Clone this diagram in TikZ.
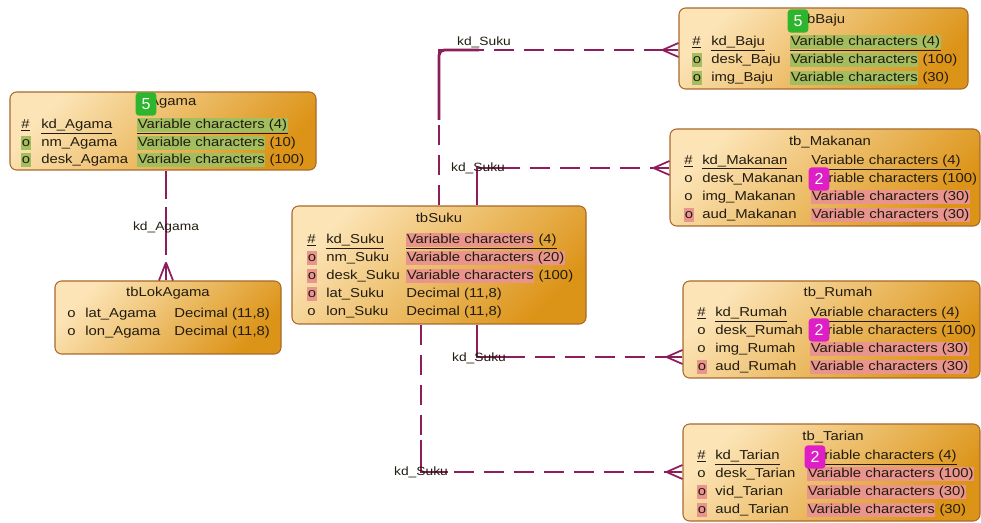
\documentclass[tikz,border=0pt]{standalone}
\usepackage{fontspec}
\setmainfont{Liberation Sans}
\newfontfamily\tf[FakeStretch=1.15]{Liberation Sans}
\usetikzlibrary{calc,fit}
\definecolor{boxlight}{HTML}{FCE4B6}
\definecolor{boxdark}{HTML}{DC9418}
\definecolor{boxborder}{HTML}{A8692C}
\definecolor{relc}{HTML}{8E1D5C}
\definecolor{hlg}{HTML}{A3BE5E}
\definecolor{hlp}{HTML}{E9958E}
\definecolor{bgreen}{HTML}{2DB52D}
\definecolor{bmag}{HTML}{DF1FC6}
\definecolor{txt}{HTML}{221C10}
\newcommand\tfont{\tf\fontsize{9.7}{11}\selectfont}
\newcommand\lfont{\tf\fontsize{9}{11}\selectfont}
\newcommand\bfont{\fontsize{12}{12}\selectfont}
\newcommand\hg[1]{{\setlength{\fboxsep}{0.4pt}\colorbox{hlg}{\vphantom{(}#1}}}
\newcommand\hp[1]{{\setlength{\fboxsep}{0.4pt}\colorbox{hlp}{\vphantom{(}#1}}}
\newcommand\uln[1]{\underline{#1}}
\newcommand\trow[8]{%
  \node[cell] (#1s) at (#3,#2) {#4};
  \node[cell] (#1n) at (#5,#2) {#6};
  \node[cell] (#1t) at (#7,#2) {#8};}
\newcommand\crowW[2]{%
  \draw[rel] ($(#1)+(-16,0)$) -- (#1);
  \draw[foot] ($(#1)+(-16,0)$) -- ($(#1)+(0,-7)$) ($(#1)+(-16,0)$) -- ($(#1)+(0,7)$);}
\begin{document}
\begin{tikzpicture}[x=0.75pt,y=-0.75pt,
  tbl/.style={draw=boxborder, line width=0.8pt, rounded corners=5pt,
    top color=boxlight, bottom color=boxdark, shading angle=45, inner sep=0pt},
  cell/.style={anchor=west, inner sep=0pt, text=txt, font=\tfont, text height=7pt, text depth=2pt},
  ttl/.style={cell, anchor=center},
  rel/.style={draw=relc, line width=2.1pt},
  foot/.style={draw=relc, line width=1.3pt},
  dsh/.style={dash pattern=on 15pt off 7.5pt},
  lbl/.style={inner sep=0pt, font=\lfont, text=txt},
  badge/.style={rounded corners=2.5pt, minimum width=15.5pt, minimum height=17.5pt, inner sep=0pt, text=white, font=\bfont}]
\useasboundingbox (0,0) rectangle (981,523);
% boxes
\node[tbl, fit={(10,92) (316,170)}] (agama) {};
\node[tbl, fit={(55,281) (281,354)}] (lokagama) {};
\node[tbl, fit={(292,206) (586,324)}] (suku) {};
\node[tbl, fit={(679,8) (968,89)}] (baju) {};
\node[tbl, fit={(670,129) (980,226)}] (makanan) {};
\node[tbl, fit={(683,281) (980,378)}] (rumah) {};
\node[tbl, fit={(683,424) (980,521)}] (tarian) {};
% helper coordinates
\coordinate (xAg) at (166,0);
\coordinate (xA) at (439,0);
\coordinate (xB) at (477,0);
\coordinate (xC) at (421,0);
\coordinate (yBa) at (0,50);
\coordinate (yMk) at (0,168);
\coordinate (yRu) at (0,357);
\coordinate (yTa) at (0,472);
\coordinate (eBa) at (baju.west |- yBa);
\coordinate (eMk) at (makanan.west |- yMk);
\coordinate (eRu) at (rumah.west |- yRu);
\coordinate (eTa) at (tarian.west |- yTa);
% connectors
\draw[rel, dash pattern=on 21pt off 6pt on 36pt off 6pt on 40pt] (agama.south -| xAg) -- (lokagama.north -| xAg);
\draw[foot] ($(lokagama.north -| xAg)+(0,-18)$) -- ($(lokagama.north -| xAg)+(-7,0)$)
            ($(lokagama.north -| xAg)+(0,-18)$) -- ($(lokagama.north -| xAg)+(7,0)$);
\draw[rel, dsh] (suku.north -| xA) |- ($(eBa)+(-16,0)$);
\draw[rel, rounded corners=4pt] ($(xA |- yBa)+(0,70)$) |- ($(xA |- yBa)+(40,0)$);
\crowW{eBa}{}
\draw[rel, dsh] (suku.north -| xB) |- ($(eMk)+(-16,0)$);
\draw[rel] (suku.north -| xB) |- ($(xB |- yMk)+(36,0)$);
\crowW{eMk}{}
\draw[rel, dsh] (suku.south -| xB) |- ($(eRu)+(-16,0)$);
\draw[rel] (suku.south -| xB) |- ($(xB |- yRu)+(30,0)$);
\crowW{eRu}{}
\draw[rel, dsh] (suku.south -| xC) |- ($(eTa)+(-16,0)$);
\draw[rel] ($(xC |- yTa)+(0,-32)$) |- ($(xC |- yTa)+(27,0)$);
\crowW{eTa}{}
% labels
\node[lbl] (lAg) at (166,227) {kd\_Agama};
\node[lbl] (lBa) at (484,42) {kd\_Suku};
\node[lbl] (lMk) at (478,168) {kd\_Suku};
\node[lbl] (lRu) at (479,358) {kd\_Suku};
\node[lbl] (lTa) at (421,472) {kd\_Suku};
% tbAgama
\node[ttl] (agT) at (166,102) {\hg{tb}Agama};
\trow{ag1}{125}{21}{\uln{\#}}{41}{\uln{kd\_Agama}}{137}{\uln{\hg{Variable characters (4)}}}
\trow{ag2}{143}{21}{\hg{o}}{41}{nm\_Agama}{137}{\hg{Variable characters} (10)}
\trow{ag3}{160}{21}{\hg{o}}{41}{desk\_Agama}{137}{\hg{Variable characters} (100)}
% tbLokAgama
\node[ttl] (laT) at (168,293) {tbLokAgama};
\trow{la1}{314}{67}{o}{85}{lat\_Agama}{174}{Decimal (11,8)}
\trow{la2}{332}{67}{o}{85}{lon\_Agama}{174}{Decimal (11,8)}
% tbSuku
\node[ttl] (suT) at (439,219) {tbSuku};
\trow{su1}{240}{307}{\uln{\#}}{326}{\uln{kd\_Suku}}{406}{\uln{\hp{Variable characters} (4)}}
\trow{su2}{258}{307}{\hp{o}}{326}{nm\_Suku}{406}{\hp{Variable characters (20)}}
\trow{su3}{276}{307}{\hp{o}}{326}{desk\_Suku}{406}{\hp{Variable characters} (100)}
\trow{su4}{294}{307}{\hp{o}}{326}{lat\_Suku}{406}{Decimal (11,8)}
\trow{su5}{312}{307}{o}{326}{lon\_Suku}{406}{Decimal (11,8)}
% tbBaju
\node[ttl] (baT) at (824,20) {tbBaju};
\trow{ba1}{42}{692}{\uln{\#}}{711}{\uln{kd\_Baju}}{790}{\uln{\hg{Variable characters (4)}}}
\trow{ba2}{60}{692}{\hg{o}}{711}{desk\_Baju}{790}{\hg{Variable characters} (100)}
\trow{ba3}{78}{692}{\hg{o}}{711}{img\_Baju}{790}{\hg{Variable characters} (30)}
% tb_Makanan
\node[ttl] (mkT) at (830,142) {tb\_Makanan};
\trow{mk1}{161}{684}{\uln{\#}}{702}{\uln{kd\_Makanan}}{811}{\uln{Variable characters (4)}}
\trow{mk2}{179}{684}{o}{702}{desk\_Makanan}{811}{Variable characters (100)}
\trow{mk3}{197}{684}{o}{702}{img\_Makanan}{811}{\hp{Variable characters (30)}}
\trow{mk4}{215}{684}{\hp{o}}{702}{aud\_Makanan}{811}{\hp{Variable characters (30)}}
% tb_Rumah
\node[ttl] (ruT) at (838,293) {tb\_Rumah};
\trow{ru1}{313}{697}{\uln{\#}}{715}{\uln{kd\_Rumah}}{810}{\uln{Variable characters (4)}}
\trow{ru2}{331}{697}{o}{715}{desk\_Rumah}{810}{Variable characters (100)}
\trow{ru3}{349}{697}{o}{715}{img\_Rumah}{810}{\hp{Variable characters (30)}}
\trow{ru4}{367}{697}{\hp{o}}{715}{aud\_Rumah}{810}{\hp{Variable characters (30)}}
% tb_Tarian
\node[ttl] (taT) at (833,437) {tb\_Tarian};
\trow{ta1}{456}{697}{\uln{\#}}{715}{\uln{kd\_Tarian}}{807}{\uln{Variable characters (4)}}
\trow{ta2}{474}{697}{o}{715}{desk\_Tarian}{807}{\hp{Variable characters (100)}}
\trow{ta3}{492}{697}{\hp{o}}{715}{vid\_Tarian}{807}{\hp{Variable characters (30)}}
\trow{ta4}{510}{697}{\hp{o}}{715}{aud\_Tarian}{807}{\hp{Variable characters} (30)}
% badges
\node[badge, fill=bgreen] (bAg) at (146,104) {5};
\node[badge, fill=bgreen] (bBa) at (798,21) {5};
\node[badge, fill=bmag] (bMk) at (819,179) {2};
\node[badge, fill=bmag] (bRu) at (819,330) {2};
\node[badge, fill=bmag] (bTa) at (815,457) {2};
\end{tikzpicture}
\end{document}
